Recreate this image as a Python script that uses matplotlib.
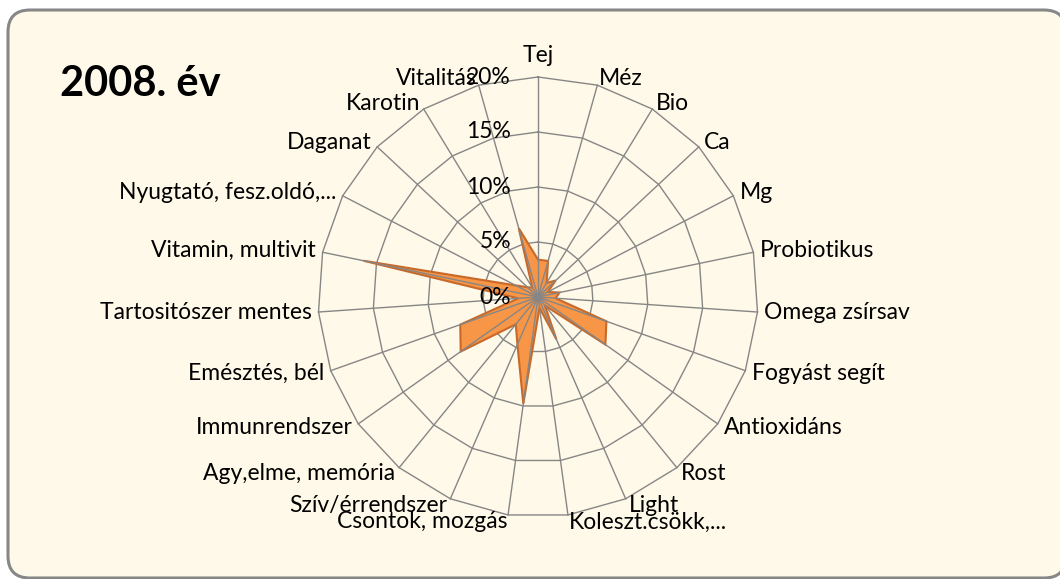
import numpy as np
import matplotlib.pyplot as plt
from matplotlib.patches import FancyBboxPatch

plt.rcParams['font.family'] = ['Lato', 'DejaVu Sans']

categories = ['Tej', 'Méz', 'Bio', 'Ca', 'Mg', 'Probiotikus', 'Omega zsírsav',
              'Fogyást segít', 'Antioxidáns', 'Rost', 'Light', 'Koleszt.csökk,...',
              'Csontok, mozgás', 'Szív/érrendszer', 'Agy,elme, memória',
              'Immunrendszer', 'Emésztés, bél', 'Tartositószer mentes',
              'Vitamin, multivit', 'Nyugtató, fesz.oldó,...', 'Daganat',
              'Karotin', 'Vitalitás']
values = [3.4, 3.4, 1.5, 2.2, 1.0, 2.0, 1.6,
          6.6, 7.5, 1.0, 4.2, 1.0,
          9.8, 4.7, 3.2,
          8.6, 7.5, 1.8,
          16.2, 2.3, 1.3,
          1.0, 6.5]
ticks = [0, 5, 10, 15, 20]
tick_labels = ['0%', '5%', '10%', '15%', '20%']

W, H = 1060, 579
cx, cy = 538, 297      # centre in pixels (from top)
s = 11.0               # pixels per 1 %

fig = plt.figure(figsize=(W / 100, H / 100), dpi=100)
fig.patch.set_facecolor('white')
ax = fig.add_axes([0, 0, 1, 1])
ax.set_xlim(-cx / s, (W - cx) / s)
ax.set_ylim(-(H - cy) / s, cy / s)
ax.axis('off')

# background box
box = FancyBboxPatch(((8 - cx) / s, (cy - 578) / s), (1066 - 8) / s, (578 - 10) / s,
                     boxstyle='round,pad=0,rounding_size=%f' % (22 / s),
                     facecolor='#FEF9E8', edgecolor='#878787', linewidth=2.2, zorder=0)
ax.add_patch(box)

n = len(categories)
theta = np.arange(n) * 2 * np.pi / n
sx, cyy = np.sin(theta), np.cos(theta)
rmax = ticks[-1]

# rings (behind the series)
for t in ticks[1:]:
    ax.plot(np.append(t * sx, t * sx[0]), np.append(t * cyy, t * cyy[0]),
            color='#868686', lw=1.0, zorder=1)

# series
v = np.array(values)
ax.fill(v * sx, v * cyy, facecolor='#F79646', edgecolor='#C8692A', lw=1.5, zorder=2)

# spokes
for a, b in zip(sx, cyy):
    ax.plot([0, rmax * a], [0, rmax * b], color='#868686', lw=1.0, zorder=3)

# category labels
fs = 16.5
gap = 7 / s
for lab, a, b in zip(categories, sx, cyy):
    r = rmax + gap
    if abs(a) < 0.05:
        ax.text(r * a, r * b + 4 / s, lab, ha='center', va='bottom', fontsize=fs, zorder=4)
    else:
        ha = 'left' if a > 0 else 'right'
        ax.text(r * a, r * b, lab, ha=ha, va='center', fontsize=fs, zorder=4)

# value axis labels
for t, lab in zip(ticks, tick_labels):
    ax.text(-27 / s, t, lab, ha='right', va='center', fontsize=fs, zorder=5)

ax.text((60 - cx) / s, (cy - 96) / s, '2008. év', ha='left', va='baseline',
        fontsize=30, fontweight='bold', zorder=5)

fig.savefig('out.png', dpi=100)
